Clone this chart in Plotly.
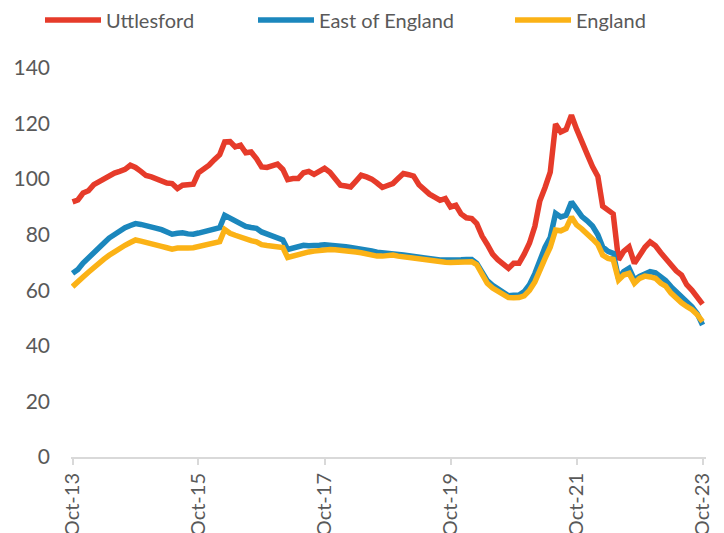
import pandas as pd
import plotly.graph_objects as go

months = pd.date_range("2013-10-01", "2023-10-01", freq="MS")

uttlesford = [
    91.8, 92.5, 95.0, 95.8, 98.0, 99.0, 100.2, 101.3, 102.2, 102.8,
    103.5, 105.0, 104.2, 102.8, 101.3, 100.8, 99.9, 99.3, 98.6, 98.4,
    96.6, 97.8, 97.8, 98.2, 102.3, 103.5, 105.0, 107.0, 108.8, 113.4,
    113.5, 111.6, 112.2, 109.5, 109.8, 107.4, 104.4, 104.2, 104.6, 105.4,
    103.5, 99.8, 100.2, 100.2, 102.3, 102.8, 101.7, 102.8, 103.9, 102.5,
    100.5, 97.8, 97.5, 97.2, 99.3, 101.4, 100.8, 100.0, 98.6, 97.0,
    97.7, 98.4, 100.2, 102.0, 101.6, 101.1, 98.0, 96.0, 94.6, 93.5,
    92.4, 93.0, 90.0, 90.6, 87.5, 86.1, 85.8, 84.0, 79.5, 76.5,
    73.0, 71.0, 69.5, 67.9, 69.7, 69.7, 73.0, 77.0, 83.0, 92.0,
    97.0, 102.5, 119.8, 117.0, 117.9, 123.0, 118.0, 114.0, 109.0, 104.5,
    101.0, 90.3, 89.0, 87.5, 71.0, 74.0, 75.6, 69.7, 72.5, 75.5,
    77.4, 76.0, 73.5, 71.5, 69.0, 67.0, 65.5, 62.0, 60.0, 57.5,
    55.0,
]

east_of_england = [
    66.1, 67.5, 69.8, 71.8, 73.8, 75.3, 77.0, 78.8, 80.2, 81.5,
    82.5, 83.3, 84.0, 83.7, 83.4, 82.8, 82.3, 81.8, 81.0, 80.2,
    80.5, 80.7, 80.3, 80.2, 80.6, 81.0, 81.3, 81.8, 82.5, 87.0,
    85.9, 85.0, 84.1, 83.0, 82.6, 82.3, 81.0, 80.2, 79.5, 78.9,
    78.1, 74.7, 75.2, 75.8, 76.2, 76.0, 75.9, 76.2, 76.4, 76.3,
    76.1, 76.0, 75.7, 75.4, 75.2, 74.9, 74.7, 74.2, 73.7, 73.5,
    73.5, 73.5, 73.0, 72.7, 72.4, 72.1, 72.0, 71.7, 71.5, 71.2,
    70.9, 70.9, 70.8, 70.9, 71.0, 71.1, 71.1, 69.7, 66.5, 63.5,
    61.8, 60.5, 59.0, 58.0, 58.2, 58.3, 59.5, 62.0, 66.0, 71.0,
    75.5, 79.0, 87.7, 86.4, 87.0, 91.8, 88.8, 86.5, 85.0, 83.1,
    80.0, 75.6, 74.0, 73.3, 64.3, 66.7, 67.9, 63.7, 65.0, 65.8,
    66.7, 66.3, 65.0, 63.5, 61.3, 59.5, 57.8, 56.0, 54.0, 51.5,
    47.5,
]

england = [
    61.3, 62.8, 64.8, 66.5, 68.3, 69.6, 71.2, 72.6, 74.0, 75.2,
    76.2, 77.2, 78.1, 77.7, 77.1, 76.6, 76.2, 75.8, 75.3, 74.8,
    75.2, 75.4, 75.2, 75.3, 75.7, 76.0, 76.3, 76.7, 77.5, 81.9,
    80.5, 79.8, 79.0, 78.4, 77.9, 77.4, 76.4, 76.1, 75.9, 75.7,
    75.4, 71.8, 72.4, 73.0, 73.6, 73.8, 74.1, 74.4, 74.8, 74.7,
    74.6, 74.5, 74.3, 74.0, 73.8, 73.5, 73.0, 72.7, 72.3, 72.3,
    72.6, 72.7, 72.3, 72.0, 71.7, 71.4, 71.2, 70.8, 70.6, 70.3,
    70.1, 70.1, 70.0, 70.1, 70.3, 70.4, 70.3, 69.2, 65.5, 62.5,
    60.8, 59.5, 58.3, 57.4, 57.3, 57.4, 58.0, 60.0, 63.0, 67.5,
    71.5, 75.5, 81.7, 81.4, 82.3, 86.4, 83.5, 82.0, 80.5, 78.5,
    76.5, 72.7, 71.5, 71.1, 63.7, 65.5, 66.1, 62.5, 64.3, 65.1,
    64.8, 64.3, 62.5, 61.5, 59.0, 57.0, 55.5, 54.2, 53.0, 51.2,
    48.7,
]

series_names = ["Uttlesford", "East of England", "England"]
colors = ["#E63B2A", "#1B87BD", "#FBB216"]
tick_dates = pd.date_range("2013-10-01", "2023-10-01", freq="24MS")
tick_labels = ["Oct-13", "Oct-15", "Oct-17", "Oct-19", "Oct-21", "Oct-23"]

FONT = "Lato, 'Open Sans', sans-serif"
GREY = "#595959"

# page is rendered with an 8px body margin, so the figure is 8px smaller
W, H = 716, 525

fig = go.Figure()
legend_names = ["legend", "legend2", "legend3"]
for name, vals, col, lg in zip(series_names, [uttlesford, east_of_england, england], colors, legend_names):
    fig.add_trace(go.Scatter(
        x=months, y=vals, name=name, mode="lines",
        line=dict(color=col, width=5.5), legend=lg,
    ))

legend_x = [32, 245, 502]
common_legend = dict(
    orientation="h", xref="container", yref="container",
    xanchor="left", yanchor="middle", y=1 - 12 / H,
    font=dict(family=FONT, size=20, color=GREY),
    bgcolor="rgba(0,0,0,0)", borderwidth=0, itemwidth=56,
)
fig.update_layout(
    legend=dict(x=legend_x[0] / W, **common_legend),
    legend2=dict(x=legend_x[1] / W, **common_legend),
    legend3=dict(x=legend_x[2] / W, **common_legend),
)

fig.update_layout(
    width=W, height=H,
    margin=dict(l=63, r=18, t=60, b=76, pad=0),
    paper_bgcolor="white", plot_bgcolor="white",
    font=dict(family=FONT, color=GREY),
    showlegend=True,
    xaxis=dict(
        range=["2013-09-22", "2023-10-21"],
        tickvals=tick_dates, ticktext=tick_labels,
        tickangle=-90, ticks="outside", ticklen=6, tickcolor="#D9D9D9",
        tickwidth=1.5,
        showline=True, linecolor="#D9D9D9", linewidth=2,
        showgrid=False, zeroline=False, automargin=False,
        tickfont=dict(family=FONT, size=20, color=GREY),
    ),
    yaxis=dict(
        range=[0, 140], dtick=20, tick0=0,
        showgrid=False, zeroline=False, showline=False,
        ticks="", ticklabelstandoff=20, automargin=False,
        tickfont=dict(family=FONT, size=21, color=GREY),
    ),
)

fig.write_html("out.html")
